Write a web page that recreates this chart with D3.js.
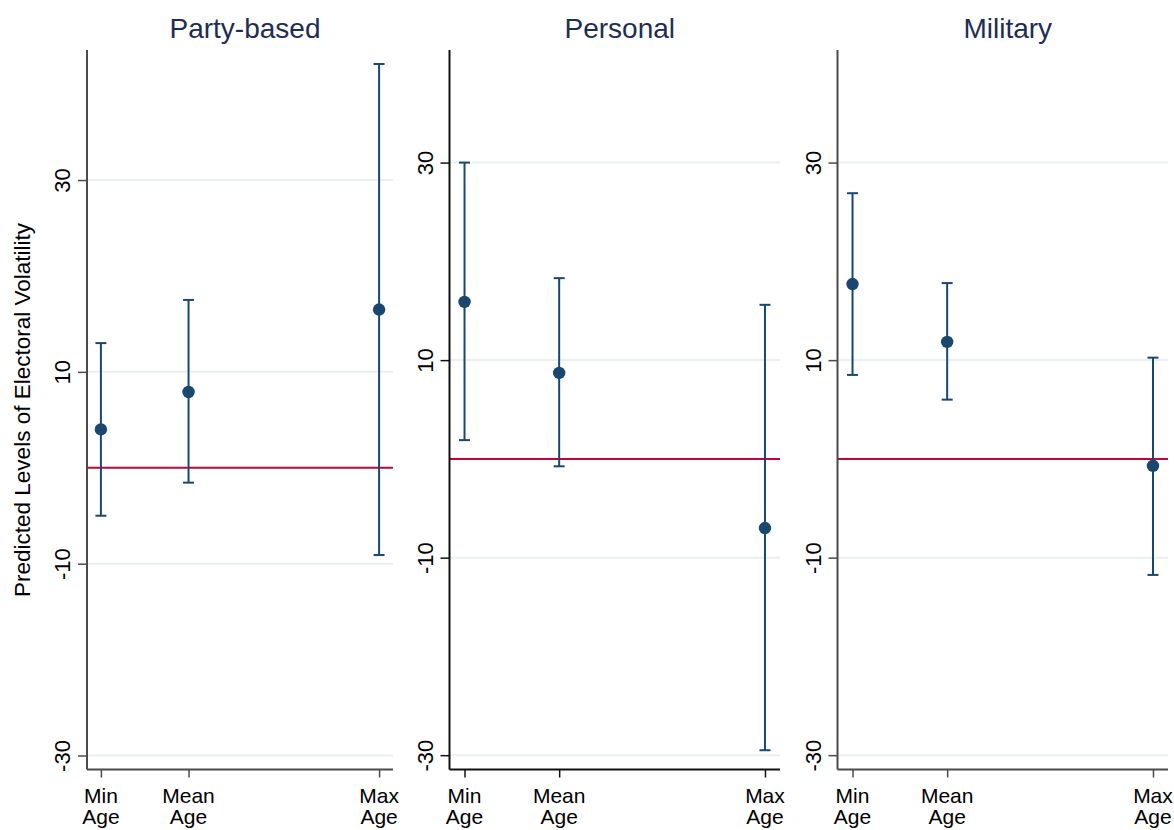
<!DOCTYPE html>
<html>
<head>
<meta charset="utf-8">
<script src="https://cdn.jsdelivr.net/npm/d3@7"></script>
<style>
  html, body { margin: 0; padding: 0; background: #fff; }
  svg { display: block; font-family: "Liberation Sans", Arial, sans-serif; }
</style>
</head>
<body>
<svg id="chart" width="1174" height="830"></svg>
<script>
// Regime types (one panel each)
const regimes = ["Party-based", "Personal", "Military"];

// Age levels at which predictions are made (scaled position of min, mean and max age)
const ageLabels = [["Min", "Age"], ["Mean", "Age"], ["Max", "Age"]];
const ageScaled = [0, 0.315, 1];

// Predicted electoral volatility with 95% confidence bounds
const partyEst = [4.0, 7.9, 16.5];
const partyLo = [-5.0, -1.55, -9.1];
const partyHi = [13.0, 17.5, 42.1];

const personalEst = [15.9, 8.7, -7.0];
const personalLo = [1.9, -0.75, -29.5];
const personalHi = [30.0, 18.3, 15.6];

const militaryEst = [17.7, 11.85, -0.7];
const militaryLo = [8.5, 6.0, -11.75];
const militaryHi = [26.9, 17.8, 10.25];

// Y axis ticks and the reference line
const yTicks = [-30, -10, 10, 30];
const refValue = 0;

// Y axis extents per panel
const yMin = [-31.46, -31.45, -31.45];
const yMax = [43.56, 41.4, 41.4];

const yTitle = "Predicted Levels of Electoral Volatility";

const series = [
  { est: partyEst, lo: partyLo, hi: partyHi },
  { est: personalEst, lo: personalLo, hi: personalHi },
  { est: militaryEst, lo: militaryLo, hi: militaryHi }
];

// Panel frames in pixels
const frames = [
  { x0: 87, x1: 393, axisColor: "#4a4a4a" },
  { x0: 449.5, x1: 780, axisColor: "#111" },
  { x0: 837.5, x1: 1168, axisColor: "#4a4a4a" }
];
const plotTop = 50, plotBottom = 769.5;

const navy = "#1a476f";
const red = "#c10534";
const grid = "#eaf0f2";

const svg = d3.select("#chart");

regimes.forEach((name, i) => {
  const f = frames[i];
  const s = series[i];
  const g = svg.append("g");

  const x = d3.scaleLinear().domain([-0.05, 1.05]).range([f.x0, f.x1]);
  const y = d3.scaleLinear().domain([yMin[i], yMax[i]]).range([plotBottom, plotTop]);

  // gridlines
  g.selectAll("line.grid").data(yTicks).join("line")
    .attr("class", "grid")
    .attr("x1", f.x0).attr("x2", f.x1)
    .attr("y1", d => y(d)).attr("y2", d => y(d))
    .attr("stroke", grid).attr("stroke-width", 2);

  // reference line
  g.append("line")
    .attr("x1", f.x0).attr("x2", f.x1)
    .attr("y1", y(refValue)).attr("y2", y(refValue))
    .attr("stroke", red).attr("stroke-width", 2);

  // y axis
  const yAxis = d3.axisLeft(y).tickValues(yTicks).tickSize(9).tickPadding(8)
    .tickFormat(d => String(d));
  const ya = g.append("g").attr("transform", `translate(${f.x0},0)`).call(yAxis);
  ya.select(".domain").remove();
  ya.selectAll(".tick line").attr("stroke", f.axisColor).attr("stroke-width", 1.5);
  ya.selectAll(".tick text")
    .attr("fill", "#000")
    .style("font-size", "22px")
    .attr("text-anchor", "middle")
    .attr("x", null).attr("dy", null)
    .attr("transform", "translate(-17,0) rotate(-90)");
  g.append("line")
    .attr("x1", f.x0).attr("x2", f.x0)
    .attr("y1", plotTop).attr("y2", plotBottom)
    .attr("stroke", f.axisColor).attr("stroke-width", 2);

  // x axis
  const xAxis = d3.axisBottom(x).tickValues(ageScaled).tickSize(8).tickFormat("");
  const xa = g.append("g").attr("transform", `translate(0,${plotBottom})`).call(xAxis);
  xa.select(".domain").remove();
  xa.selectAll(".tick line").attr("stroke", f.axisColor).attr("stroke-width", 1.5);
  g.append("line")
    .attr("x1", f.x0).attr("x2", f.x1)
    .attr("y1", plotBottom).attr("y2", plotBottom)
    .attr("stroke", f.axisColor).attr("stroke-width", 2);

  const lbl = g.selectAll("text.xl").data(ageScaled).join("text")
    .attr("class", "xl")
    .attr("text-anchor", "middle")
    .attr("fill", "#000")
    .style("font-size", "21px");
  lbl.each(function (d, j) {
    const t = d3.select(this);
    ageLabels[j].forEach((line, k) => {
      t.append("tspan").attr("x", x(d)).attr("y", 803 + k * 21).text(line);
    });
  });

  // confidence intervals
  const idx = d3.range(ageScaled.length);
  g.selectAll("line.ci").data(idx).join("line")
    .attr("class", "ci")
    .attr("x1", j => x(ageScaled[j])).attr("x2", j => x(ageScaled[j]))
    .attr("y1", j => y(s.lo[j])).attr("y2", j => y(s.hi[j]))
    .attr("stroke", navy).attr("stroke-width", 2);
  ["lo", "hi"].forEach(k => {
    g.selectAll("line.cap-" + k).data(idx).join("line")
      .attr("class", "cap-" + k)
      .attr("x1", j => x(ageScaled[j]) - 5.5).attr("x2", j => x(ageScaled[j]) + 5.5)
      .attr("y1", j => y(s[k][j])).attr("y2", j => y(s[k][j]))
      .attr("stroke", navy).attr("stroke-width", 2);
  });

  // point estimates
  g.selectAll("circle.pt").data(idx).join("circle")
    .attr("class", "pt")
    .attr("cx", j => x(ageScaled[j])).attr("cy", j => y(s.est[j]))
    .attr("r", 6.2)
    .attr("fill", navy);

  // panel title
  g.append("text")
    .attr("x", (f.x0 + f.x1) / 2 + 5)
    .attr("y", 38)
    .attr("text-anchor", "middle")
    .attr("fill", "#1e2d53")
    .style("font-size", "28px")
    .text(name);
});

// shared y title
svg.append("text")
  .attr("transform", "translate(30,410) rotate(-90)")
  .attr("text-anchor", "middle")
  .attr("fill", "#000")
  .style("font-size", "22.5px")
  .text(yTitle);
</script>
</body>
</html>
